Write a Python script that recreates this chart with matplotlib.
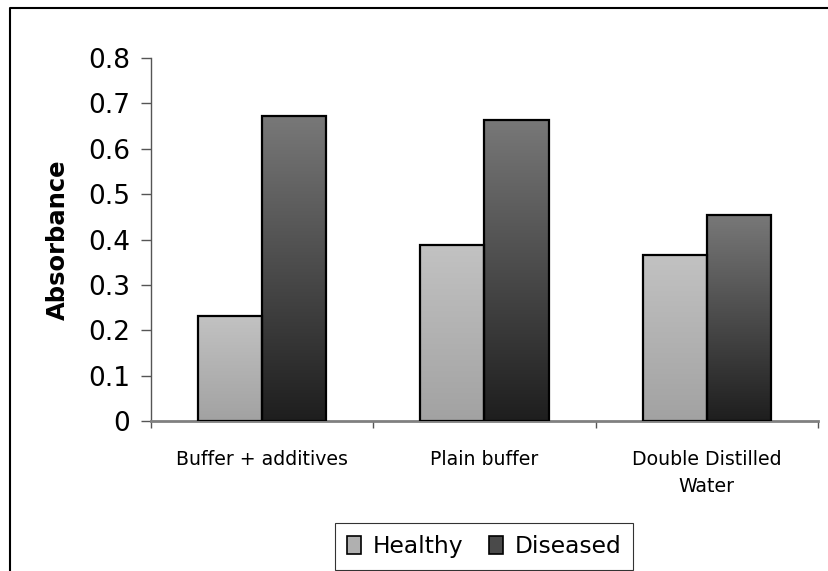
#!/usr/bin/env python3
'''grouped absorbance bars, healthy vs diseased'''
import numpy as np
import matplotlib.pyplot as plt
from matplotlib.lines import Line2D
from matplotlib.patches import Patch
from matplotlib.colors import LinearSegmentedColormap

categories = ['Buffer + additives', 'Plain buffer', 'Double Distilled\nWater']
healthy = [0.232, 0.387, 0.366]
diseased = [0.672, 0.664, 0.453]
y_ticks = [0, 0.1, 0.2, 0.3, 0.4, 0.5, 0.6, 0.7, 0.8]
y_tick_labels = ['0', '0.1', '0.2', '0.3', '0.4', '0.5', '0.6', '0.7', '0.8']


def gradient_bars(ax, bars, top, bottom):
    ''' fill each bar with a vertical gradient clipped to the bar'''
    cmap = LinearSegmentedColormap.from_list('g', [bottom, top])
    grad = np.linspace(0, 1, 256).reshape(-1, 1)
    for b in bars:
        x0, y0 = b.get_x(), b.get_y()
        im = ax.imshow(grad, cmap=cmap, origin='lower', aspect='auto',
                       extent=[x0, x0 + b.get_width(), y0, y0 + b.get_height()],
                       zorder=2)
        im.set_clip_path(b)


def chart():
    fig = plt.figure(figsize=(8.29, 5.71), dpi=100)
    ax = fig.add_axes([0.1821, 0.2627, 0.8046, 0.6357])
    x = np.arange(len(categories))
    width = 0.288

    hb = ax.bar(x - width / 2, healthy, width=width, facecolor='none',
                edgecolor='black', linewidth=1.6, zorder=3)
    db = ax.bar(x + width / 2, diseased, width=width, facecolor='none',
                edgecolor='black', linewidth=1.6, zorder=3)
    gradient_bars(ax, hb, '#c2c2c2', '#a2a2a2')
    gradient_bars(ax, db, '#787878', '#1e1e1e')

    ax.set_xlim(-0.5, 2.5)
    ax.set_ylim(0, 0.8)
    ax.set_yticks(y_ticks)
    ax.set_yticklabels(y_tick_labels, fontsize=19)
    ax.tick_params(axis='y', length=7, width=1, color='#555555', pad=8)

    ax.set_xticks(x)
    ax.set_xticklabels(categories, fontsize=13.6, linespacing=1.55)
    ax.set_xticks([-0.5, 0.5, 1.5, 2.5], minor=True)
    ax.tick_params(axis='x', which='major', length=0, pad=21)
    ax.tick_params(axis='x', which='minor', length=5, width=1, color='#555555')

    for s in ['top', 'right']:
        ax.spines[s].set_visible(False)
    ax.spines['left'].set_color('#555555')
    ax.spines['left'].set_linewidth(1)
    ax.spines['bottom'].set_color('#808080')
    ax.spines['bottom'].set_linewidth(2)

    ax.set_ylabel('Absorbance', fontsize=17.5, fontweight='bold')
    ax.yaxis.set_label_coords(-0.122, 0.5)

    handles = [Patch(facecolor='#b0b0b0', edgecolor='black', linewidth=1.2),
               Patch(facecolor='#4a4a4a', edgecolor='black', linewidth=1.2)]
    leg = fig.legend(handles, ['Healthy', 'Diseased'], loc='center',
                     bbox_to_anchor=(0.584, 0.043), ncol=2, fontsize=16.8,
                     frameon=True, fancybox=False, handlelength=0.6,
                     handleheight=0.8, handletextpad=0.5, columnspacing=1.1,
                     borderpad=0.5, borderaxespad=0)
    leg.get_frame().set_edgecolor('black')
    leg.get_frame().set_linewidth(0.8)

    # outer chart-area frame (only left and top edges visible)
    fig.add_artist(Line2D([0.0115, 0.0115, 1.0], [0.0, 0.9860, 0.9860],
                          transform=fig.transFigure, color='black',
                          linewidth=1.5))

    fig.savefig('out.png', dpi=100)


chart()
